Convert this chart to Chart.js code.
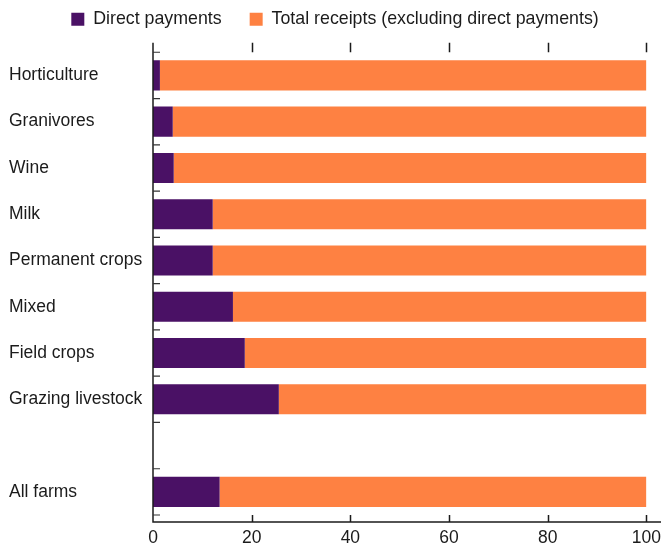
<!DOCTYPE html>
<html><head><meta charset="utf-8">
<script src="https://cdn.jsdelivr.net/npm/chart.js@4/dist/chart.umd.min.js"></script>
<style>html,body{margin:0;padding:0;background:#fff}</style>
</head><body>
<canvas id="c" width="661" height="555"></canvas>
<script>
const categories = ['Horticulture','Granivores','Wine','Milk','Permanent crops','Mixed','Field crops','Grazing livestock','','All farms'];
const directPayments = [1.4, 4.0, 4.2, 12.1, 12.1, 16.2, 18.6, 25.5, null, 13.5];
const otherReceipts = [98.6, 96.0, 95.8, 87.9, 87.9, 83.8, 81.4, 74.5, null, 86.5];
const seriesNames = ['Direct payments', 'Total receipts (excluding direct payments)'];
const xTickValues = [0, 20, 40, 60, 80, 100];

const FONT = {family: '"Liberation Sans", Arial, sans-serif', size: 17.5, lineHeight: 1.2};
const INK = '#1b1b1b';

const legendHeightFix = {
  id: 'legendHeightFix',
  afterInit(chart) {
    const lg = chart.legend;
    const orig = lg.fit;
    lg.fit = function() { orig.call(this); this.height = 70; };
  }
};

const frame = {
  id: 'frame',
  afterDraw(chart) {
    const {ctx, chartArea: a, scales: {x, y}} = chart;
    const topGap = 9.5, botGap = 7;
    const top = a.top - topGap, bot = a.bottom + botGap;
    ctx.save();
    ctx.strokeStyle = INK;
    ctx.lineWidth = 1.5;
    ctx.beginPath();
    ctx.moveTo(a.left, top);
    ctx.lineTo(a.left, bot);
    ctx.lineTo(chart.width, bot);
    ctx.stroke();
    ctx.beginPath();
    xTickValues.forEach(v => {
      const px = Math.round(x.getPixelForValue(v)) + 0.5;
      if (v !== 0) {
        ctx.moveTo(px, bot); ctx.lineTo(px, bot - botGap);
        ctx.moveTo(px, top); ctx.lineTo(px, top + topGap);
      }
    });
    ctx.stroke();
    ctx.lineWidth = 1.2;
    ctx.strokeStyle = '#333';
    ctx.beginPath();
    const n = categories.length;
    const step = (a.bottom - a.top) / n;
    for (let i = 0; i <= n; i++) {
      const c = i < n ? y.getPixelForValue(i) - step / 2 : y.getPixelForValue(n - 1) + step / 2;
      ctx.moveTo(a.left, c); ctx.lineTo(a.left + 7, c);
    }
    ctx.stroke();
    ctx.restore();
  }
};

new Chart(document.getElementById('c'), {
  type: 'bar',
  data: {
    labels: categories,
    datasets: [
      {label: seriesNames[0], data: directPayments, backgroundColor: '#4a1165', borderWidth: 0},
      {label: seriesNames[1], data: otherReceipts, backgroundColor: '#fe8142', borderWidth: 0}
    ]
  },
  options: {
    indexAxis: 'y',
    responsive: false,
    devicePixelRatio: 1,
    animation: false,
    datasets: {bar: {categoryPercentage: 1, barPercentage: 0.65}},
    layout: {padding: {top: -17.75, left: 9, right: 0, bottom: 6}},
    plugins: {
      tooltip: {enabled: false},
      legend: {
        position: 'top',
        labels: {boxWidth: 13, boxHeight: 13, padding: 28, color: INK, font: {...FONT, size: 17.8}}
      }
    },
    scales: {
      x: {
        stacked: true, min: 0, max: 100,
        afterBuildTicks(s) { s.ticks = xTickValues.map(v => ({value: v})); },
        ticks: {color: INK, font: FONT, padding: 0, maxRotation: 0},
        grid: {display: false, drawTicks: true, tickLength: 13},
        border: {display: false}
      },
      y: {
        stacked: true,
        afterFit(s) { s.width = 144; },
        ticks: {color: INK, font: FONT, crossAlign: 'far', padding: 0, autoSkip: false},
        grid: {display: false},
        border: {display: false}
      }
    }
  },
  plugins: [legendHeightFix, frame]
});
</script>
</body></html>
